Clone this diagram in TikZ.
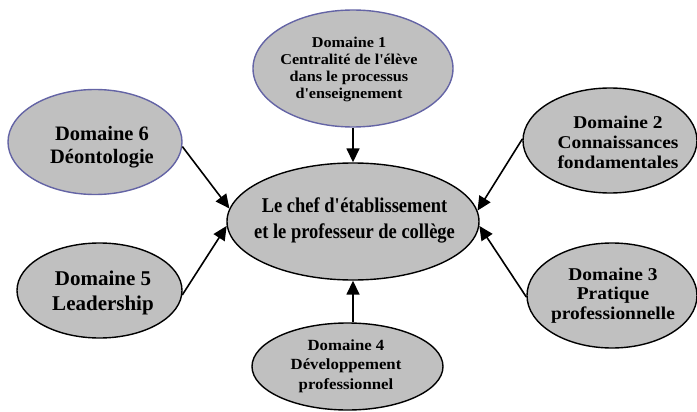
\documentclass[tikz,border=0pt]{standalone}
\usepackage{fontspec}
\setmainfont{Liberation Serif}
\newfontfamily\wideserif{Liberation Serif}[FakeStretch=1.08]
\newfontfamily\condserif{Liberation Serif}[FakeStretch=0.88]
\usetikzlibrary{shapes.geometric,arrows.meta}
\definecolor{fillgray}{RGB}{192,192,192}
\definecolor{lilac}{RGB}{100,100,165}
\newcommand{\apos}{\textquotesingle}
\begin{document}
\begin{tikzpicture}[x=1pt,y=-1pt,
  dom/.style={ellipse, draw=black, line width=1.4pt, fill=fillgray, inner sep=0pt},
  arr/.style={line width=1.6pt, draw=black, -{Triangle[length=14pt,width=13pt]}},
  lbl/.style={align=center, inner sep=0pt, text=black}]
\useasboundingbox (0,0) rectangle (697,412);
% ellipses
\node[dom, draw=lilac, minimum width=200pt, minimum height=117pt] (d1) at (353,68.5) {};
\node[dom, draw=lilac, minimum width=174pt, minimum height=105pt] (d6) at (95,142) {};
\node[dom, minimum width=174pt, minimum height=105pt] (d2) at (610,140.5) {};
\node[dom, minimum width=252pt, minimum height=117pt] (c) at (353,221.5) {};
\node[dom, minimum width=165pt, minimum height=95pt] (d5) at (99.5,290.5) {};
\node[dom, minimum width=170pt, minimum height=105pt] (d3) at (612,295.5) {};
\node[dom, minimum width=191pt, minimum height=87pt] (d4) at (347.5,366.5) {};
% labels
\node[lbl, font=\wideserif\bfseries\fontsize{15}{17}\selectfont] (t1) at (349,69)
  {Domaine 1\\Centralit\'e de l\apos\'el\`eve\\dans le processus\\d\apos enseignement};
\node[lbl, font=\bfseries\fontsize{20.5}{23}\selectfont] (t6) at (102,147)
  {Domaine 6\\D\'eontologie};
\node[lbl, font=\wideserif\bfseries\fontsize{18}{20}\selectfont] (t2) at (618,142)
  {Domaine 2\\Connaissances\\fondamentales};
\node[lbl, font=\condserif\bfseries\fontsize{21}{26}\selectfont] (tc) at (354.5,220)
  {Le chef d\apos\'etablissement\\et le professeur de coll\`ege};
\node[lbl, font=\bfseries\fontsize{21}{25}\selectfont] (t5) at (103,292.7)
  {Domaine 5\\Leadership};
\node[lbl, font=\wideserif\bfseries\fontsize{18}{19.5}\selectfont] (t3) at (613,295.4)
  {Domaine 3\\Pratique\\professionnelle};
\node[lbl, font=\wideserif\bfseries\fontsize{15.5}{19.5}\selectfont] (t4) at (346,366)
  {Domaine 4\\D\'eveloppement\\professionnel};
% connectors
\draw[arr] (d1.south) -- (c.north);
\draw[arr] (d6.-3.9) -- (c.174.8);
\draw[arr] (d5.-3.1) -- (c.182.5);
\draw[arr] (d2.179.7) -- (c.5.2);
\draw[arr] (d3.181) -- (c.-2.9);
\draw[arr] (c.south |- d4.north) -- (c.south);
\end{tikzpicture}
\end{document}
